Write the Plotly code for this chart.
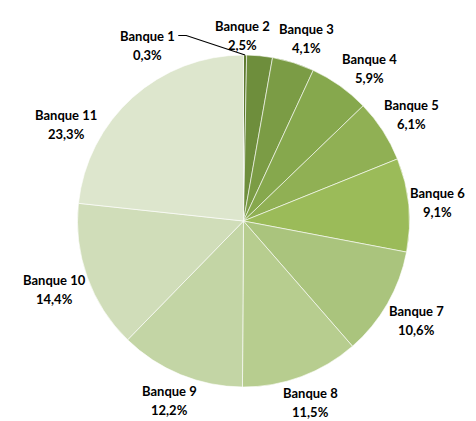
import math
import plotly.graph_objects as go

banques = ['Banque 1', 'Banque 2', 'Banque 3', 'Banque 4', 'Banque 5', 'Banque 6',
           'Banque 7', 'Banque 8', 'Banque 9', 'Banque 10', 'Banque 11']
parts = [0.3, 2.5, 4.1, 5.9, 6.1, 9.1, 10.6, 11.5, 12.2, 14.4, 23.3]
couleurs = ['#5d7a2f', '#6e8e3c', '#7b9c45', '#86a84d', '#90b054', '#9bbb59',
            '#aac47d', '#b7cd8f', '#c3d5a5', '#d0ddb9', '#dde6cd']

# the html page puts an 8px body margin around the figure
W, H = 468, 413
dom_x = [0.1485, 0.8579]
dom_y = [0.0823, 0.8862]
police = dict(family='Lato, Noto Sans, sans-serif', size=13, color='black')
interligne = 19

fig = go.Figure()
fig.add_trace(go.Pie(
    labels=banques,
    values=parts,
    sort=False,
    direction='clockwise',
    rotation=0,
    marker=dict(colors=couleurs, line=dict(color='white', width=0.6)),
    textposition='none',
    domain=dict(x=dom_x, y=dom_y),
    showlegend=False,
    hoverinfo='label+value',
))

# geometry of the pie in pixels (derived from the domain)
cx = (dom_x[0] + dom_x[1]) / 2 * W
cy = (1 - (dom_y[0] + dom_y[1]) / 2) * H
R = min((dom_x[1] - dom_x[0]) * W, (dom_y[1] - dom_y[0]) * H) / 2

total = sum(parts)
mids = []
acc = 0
for v in parts:
    mids.append((acc + v / 2) / total * 360)
    acc += v

box_h = 38


def centre(a, w):
    s, c = math.sin(math.radians(a)), math.cos(math.radians(a))
    d = R + abs(s) * w / 2 + abs(c) * box_h / 2
    return cx + d * s, cy - d * c


def boite(p, w):
    return (p[0] - w / 2, p[1] - box_h / 2, p[0] + w / 2, p[1] + box_h / 2)


def chevauche(b1, b2, pad=2):
    return not (b1[2] + pad < b2[0] or b2[2] + pad < b1[0] or
                b1[3] + pad < b2[1] or b2[3] + pad < b1[1])


largeurs = [len(b) * 6.8 for b in banques]
angles = list(mids)
callout = [v / total < 0.01 for v in parts]

# small slices get a callout label pulled to the left
callout_boxes = []
for i, b in enumerate(banques):
    if callout[i]:
        s, c = math.sin(math.radians(mids[i])), math.cos(math.radians(mids[i]))
        px, py = cx + R * s, cy - R * c
        callout_boxes.append((i, (px, py), boite((px - 98, py - 10), largeurs[i])))

# push overlapping labels apart along the circle
for _ in range(300):
    moved = False
    pos = [centre(angles[i], largeurs[i]) for i in range(len(banques))]
    for i in range(len(banques)):
        if callout[i]:
            continue
        bi = boite(pos[i], largeurs[i])
        for _, _, cb in callout_boxes:
            if chevauche(bi, cb, pad=40):
                angles[i] += -0.5 if angles[i] > 180 else 0.5
                moved = True
        for j in range(i + 1, len(banques)):
            if callout[j]:
                continue
            if chevauche(bi, boite(pos[j], largeurs[j]), pad=8):
                angles[i] -= 0.5
                angles[j] += 0.5
                moved = True
    if not moved:
        break


def etiquette(px, py, b, pct):
    for k, t in enumerate([b, pct]):
        fig.add_annotation(
            x=px / W, y=1 - py / H, xref='paper', yref='paper',
            text='<b>%s</b>' % t, font=police, showarrow=False,
            xanchor='center', yanchor='middle',
            yshift=interligne / 2 - k * interligne,
        )


for i, b in enumerate(banques):
    pct = ('%.1f' % parts[i]).replace('.', ',') + '%'
    if callout[i]:
        _, (px, py), cb = [c for c in callout_boxes if c[0] == i][0]
        tx, ty = px - 98, py - 10
        etiquette(tx, ty, b, pct)
        # leader line from the label to the slice
        fig.add_shape(
            type='path', xref='paper', yref='paper',
            path='M %f,%f L %f,%f L %f,%f' % (
                (tx + largeurs[i] / 2 + 4) / W, 1 - (ty - interligne / 2) / H,
                (tx + largeurs[i] / 2 + 12) / W, 1 - (ty - interligne / 2) / H,
                px / W, 1 - py / H),
            line=dict(color='black', width=1.2),
        )
    else:
        px, py = centre(angles[i], largeurs[i])
        etiquette(px, py, b, pct)

fig.update_layout(
    width=W,
    height=H,
    margin=dict(l=0, r=0, t=0, b=0),
    paper_bgcolor='white',
)

fig.write_html("out.html")
